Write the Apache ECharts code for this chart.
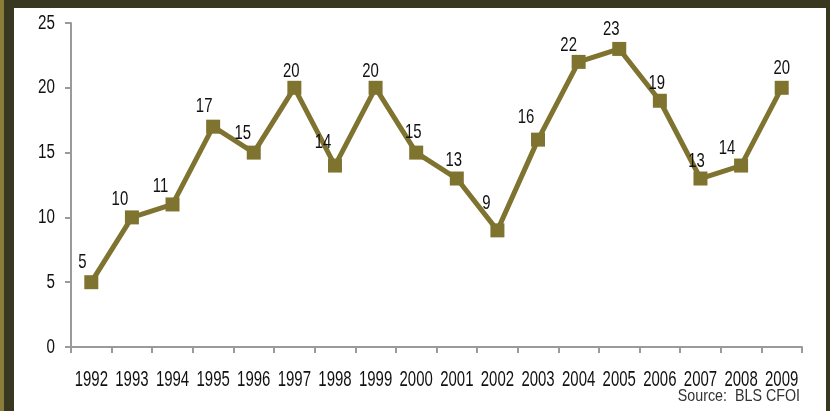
<!DOCTYPE html>
<html>
<head>
<meta charset="utf-8">
<script src="https://cdn.jsdelivr.net/npm/echarts@6/dist/echarts.min.js"></script>
<style>
  html, body { margin: 0; padding: 0; width: 830px; height: 411px; overflow: hidden; background: #37381f; }
  #strip { position: absolute; left: 0; top: 0; width: 4px; height: 411px; background: #8a7d3a; }
  #chart { position: absolute; left: 14px; top: 8px; width: 812px; height: 403px; background: #ffffff; }
</style>
</head>
<body>
<div id="strip"></div>
<div id="chart"></div>
<script>
const years = ['1992','1993','1994','1995','1996','1997','1998','1999','2000','2001','2002','2003','2004','2005','2006','2007','2008','2009'];
const values = [5, 10, 11, 17, 15, 20, 14, 20, 15, 13, 9, 16, 22, 23, 19, 13, 14, 20];
const yTicks = [0, 5, 10, 15, 20, 25];
const sourceNote = 'Source:  BLS CFOI';

// label nudges (label centre relative to marker centre)
const labelNudges = [[-9,-20],[-12,-18],[-12,-18],[-9,-20],[-11,-19],[-3,-17],[-12,-23],[-5,-17],[-3,-20],[-3,-18],[-11,-27],[-12,-22],[-10,-17],[-8,-20],[-3,-18],[-4,-17],[-14,-17],[0,-20]];

// Condensed look (Arial Narrow in the original): Liberation Sans squeezed horizontally
const FONT = 'Liberation Sans';
const OLIVE = '#7f7330';
const AXIS = '#9a9a9a';
const TEXT = '#111111';

function txt(s, size, align) {
  return { text: s, fill: TEXT, fontSize: size, fontFamily: FONT, align: align, verticalAlign: 'middle' };
}

const chart = echarts.init(document.getElementById('chart'), null, { renderer: 'canvas' });
chart.setOption({
  animation: false,
  backgroundColor: '#ffffff',
  grid: { left: 57, right: 24, top: 15, bottom: 64, containLabel: false },
  xAxis: {
    type: 'category',
    data: years,
    boundaryGap: true,
    axisLine: { show: true, lineStyle: { color: AXIS, width: 2 } },
    axisTick: { show: true, length: 6, lineStyle: { color: AXIS, width: 2 } },
    axisLabel: { show: false },
    splitLine: { show: false }
  },
  yAxis: {
    type: 'value',
    min: yTicks[0],
    max: yTicks[yTicks.length - 1],
    interval: yTicks[1] - yTicks[0],
    axisLine: { show: true, lineStyle: { color: AXIS, width: 2 } },
    axisTick: { show: true, length: 6, lineStyle: { color: AXIS, width: 2 } },
    axisLabel: { show: false },
    splitLine: { show: false }
  },
  graphic: [{
    type: 'text',
    x: 786, y: 388,
    scaleX: 0.84,
    style: { text: sourceNote, fill: '#333', fontSize: 17, fontFamily: FONT, align: 'right', verticalAlign: 'middle' }
  }],
  series: [{
    type: 'line',
    data: values,
    symbol: 'rect',
    symbolSize: 14,
    lineStyle: { color: OLIVE, width: 5 },
    itemStyle: { color: OLIVE },
    label: { show: false },
    z: 2
  }, {
    // value labels
    type: 'custom',
    clip: false,
    silent: true,
    z: 3,
    data: values.map((v, i) => [i, v]),
    renderItem: function (params, api) {
      const i = params.dataIndex;
      const p = api.coord([api.value(0), api.value(1)]);
      const n = labelNudges[i];
      return {
        type: 'text',
        x: p[0] + n[0], y: p[1] + n[1],
        scaleX: 0.71,
        style: txt(String(values[i]), 21, 'center')
      };
    }
  }, {
    // x-axis category labels
    type: 'custom',
    clip: false,
    silent: true,
    data: years.map((y, i) => [i, 0]),
    renderItem: function (params, api) {
      const i = params.dataIndex;
      const p = api.coord([api.value(0), 0]);
      return {
        type: 'text',
        x: p[0], y: p[1] + 33,
        scaleX: 0.68,
        style: txt(years[i], 22, 'center')
      };
    }
  }, {
    // y-axis tick labels
    type: 'custom',
    clip: false,
    silent: true,
    data: yTicks.map(v => [0, v]),
    renderItem: function (params, api) {
      const i = params.dataIndex;
      const p = api.coord([0, api.value(1)]);
      const band = api.size([1, 0])[0];
      return {
        type: 'text',
        x: p[0] - band / 2 - 16, y: p[1],
        scaleX: 0.76,
        style: txt(String(yTicks[i]), 20, 'right')
      };
    }
  }]
});
</script>
</body>
</html>
